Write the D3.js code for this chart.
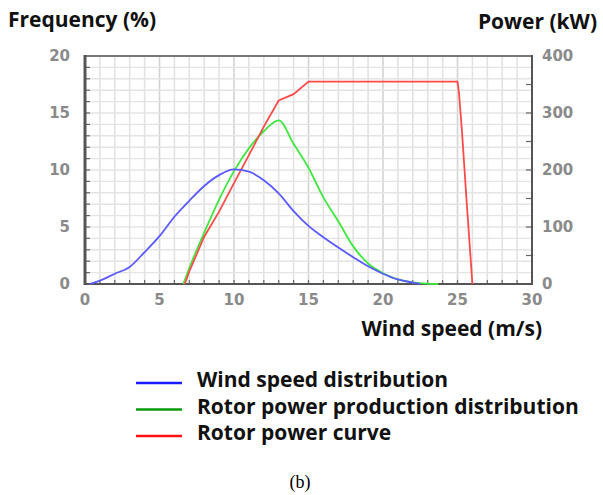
<!DOCTYPE html>
<html lang="en">
<head>
    <meta charset="UTF-8">
    <title>Wind speed and rotor power</title>
    <script src="https://d3js.org/d3.v7.min.js"></script>
    <style>
        body { margin: 0; background: #fff; }
        .tick-label { font-family: "DejaVu Sans", sans-serif; font-size: 15px; font-weight: bold; fill: #8a8a8a; }
        .title { font-family: "Open Sans", sans-serif; font-size: 21px; font-weight: bold; fill: #111; }
    </style>
</head>
<body>
    <div id="chart"></div>

    <script>
        const width = 603;
        const height = 495;
        const margin = { top: 56, right: 71, bottom: 211, left: 85 };

        // wind speed distribution (%), left axis
        const windX = [0.3, 1, 2, 3, 4, 5, 6, 7, 8, 9, 10, 11, 12, 13, 14, 15, 16, 17, 18, 19, 20, 21, 22, 22.5];
        const windY = [0, 0.3, 0.9, 1.5, 2.8, 4.2, 5.9, 7.3, 8.6, 9.55, 10.05, 9.85, 9.1, 7.95, 6.4, 5.1, 4.1, 3.2, 2.35, 1.55, 0.9, 0.4, 0.12, 0];

        // rotor power production distribution (%), left axis
        const prodX = [6.6, 7, 8, 9, 10, 11, 12, 13, 14, 15, 16, 17, 18, 19, 20, 21, 22, 23, 23.7];
        const prodY = [0, 1.4, 4.5, 7.4, 9.9, 11.9, 13.4, 14.35, 12.3, 10.2, 7.6, 5.5, 3.3, 1.8, 0.95, 0.4, 0.15, 0.03, 0];

        // rotor power curve (kW), right axis
        const powerX = [6.7, 7, 8, 9, 10, 11, 12, 13, 14, 15, 25, 25.1, 25.3, 25.6, 26];
        const powerY = [0, 22, 83, 127, 177, 226, 276, 322, 333, 355, 355, 335, 268, 150, 0];

        const xTicks = [0, 5, 10, 15, 20, 25, 30];
        const leftTicks = [0, 5, 10, 15, 20];
        const rightTicks = [0, 100, 200, 300, 400];

        const legendNames = ["Wind speed distribution", "Rotor power production distribution", "Rotor power curve"];
        const legendColors = ["#1a1aff", "#0a9a0a", "#ff1010"];
        const lineColors = ["#5a5aff", "#3ee83e", "#ff4a4a"];

        const plotW = width - margin.left - margin.right;
        const plotH = height - margin.top - margin.bottom;

        const svg = d3.select("#chart")
            .append("svg")
            .attr("width", width)
            .attr("height", height);

        const x = d3.scaleLinear().domain([0, 30]).range([margin.left, margin.left + plotW]);
        const yL = d3.scaleLinear().domain([0, 20]).range([margin.top + plotH, margin.top]);
        const yR = d3.scaleLinear().domain([0, 400]).range([margin.top + plotH, margin.top]);

        // grid
        const grid = svg.append("g");
        grid.selectAll(".vg")
            .data(d3.range(1, 30))
            .enter().append("line")
            .attr("x1", d => x(d)).attr("x2", d => x(d))
            .attr("y1", yL(20)).attr("y2", yL(0))
            .attr("stroke", d => d % 5 === 0 ? "#d4d4d4" : "#e2e2e2")
            .attr("stroke-width", 1.6);
        grid.selectAll(".hg")
            .data(d3.range(1, 20))
            .enter().append("line")
            .attr("x1", x(0)).attr("x2", x(30))
            .attr("y1", d => yL(d)).attr("y2", d => yL(d))
            .attr("stroke", "#e4e4e4")
            .attr("stroke-width", 1.4);

        // minor ticks (inside)
        const ticks = svg.append("g").attr("stroke", "#666").attr("stroke-width", 1.2);
        d3.range(1, 20).forEach(v => {
            ticks.append("line").attr("x1", x(0)).attr("x2", x(0) + 5).attr("y1", yL(v)).attr("y2", yL(v));
        });
        d3.range(50, 400, 50).forEach(v => {
            ticks.append("line").attr("x1", x(30)).attr("x2", x(30) - 6).attr("y1", yR(v)).attr("y2", yR(v));
        });
        d3.range(1, 30).forEach(v => {
            ticks.append("line").attr("x1", x(v)).attr("x2", x(v)).attr("y1", yL(0)).attr("y2", yL(0) - 4);
        });

        // frame
        svg.append("line").attr("x1", x(0)).attr("x2", x(30)).attr("y1", yL(20)).attr("y2", yL(20))
            .attr("stroke", "#777").attr("stroke-width", 2);
        svg.append("line").attr("x1", x(0)).attr("x2", x(30)).attr("y1", yL(0)).attr("y2", yL(0))
            .attr("stroke", "#555").attr("stroke-width", 2);
        svg.append("line").attr("x1", x(0)).attr("x2", x(0)).attr("y1", yL(20) - 1).attr("y2", yL(0) + 1)
            .attr("stroke", "#555").attr("stroke-width", 3);
        svg.append("line").attr("x1", x(30)).attr("x2", x(30)).attr("y1", yL(20) - 1).attr("y2", yL(0) + 1)
            .attr("stroke", "#555").attr("stroke-width", 2);

        // tick labels
        svg.selectAll(".xl").data(xTicks).enter().append("text")
            .attr("class", "tick-label")
            .attr("x", d => x(d)).attr("y", yL(0) + 21)
            .attr("text-anchor", "middle")
            .text(d => d);
        svg.selectAll(".ll").data(leftTicks).enter().append("text")
            .attr("class", "tick-label")
            .attr("x", x(0) - 15).attr("y", d => yL(d) + 5)
            .attr("text-anchor", "end")
            .text(d => d);
        svg.selectAll(".rl").data(rightTicks).enter().append("text")
            .attr("class", "tick-label")
            .attr("x", x(30) + 10).attr("y", d => yR(d) + 5)
            .attr("text-anchor", "start")
            .text(d => d);

        // series
        const lineL = d3.line().x(d => x(d[0])).y(d => yL(d[1])).curve(d3.curveMonotoneX);
        const lineR = d3.line().x(d => x(d[0])).y(d => yR(d[1]));

        svg.append("path").datum(d3.zip(prodX, prodY))
            .attr("d", lineL).attr("fill", "none")
            .attr("stroke", lineColors[1]).attr("stroke-width", 1.8);
        svg.append("path").datum(d3.zip(powerX, powerY))
            .attr("d", lineR).attr("fill", "none")
            .attr("stroke", lineColors[2]).attr("stroke-width", 1.8);
        svg.append("path").datum(d3.zip(windX, windY))
            .attr("d", lineL).attr("fill", "none")
            .attr("stroke", lineColors[0]).attr("stroke-width", 1.8);

        // axis titles
        svg.append("text").attr("class", "title").attr("x", 8).attr("y", 27).text("Frequency (%)");
        svg.append("text").attr("class", "title").attr("x", 597).attr("y", 29)
            .attr("text-anchor", "end").text("Power (kW)");
        svg.append("text").attr("class", "title").attr("x", 542).attr("y", 336)
            .attr("text-anchor", "end").text("Wind speed (m/s)");

        // legend
        const legend = svg.append("g");
        legendNames.forEach((name, i) => {
            const ly = 383 + i * 26.5;
            legend.append("line")
                .attr("x1", 136).attr("x2", 182)
                .attr("y1", ly).attr("y2", ly)
                .attr("stroke", legendColors[i]).attr("stroke-width", 2.5);
            legend.append("text").attr("class", "title")
                .attr("x", 197).attr("y", ly + 4)
                .text(name);
        });

        svg.append("text")
            .attr("x", 300).attr("y", 488)
            .attr("text-anchor", "middle")
            .style("font-family", "'Liberation Serif', serif")
            .style("font-size", "18px")
            .text("(b)");
    </script>
</body>
</html>
